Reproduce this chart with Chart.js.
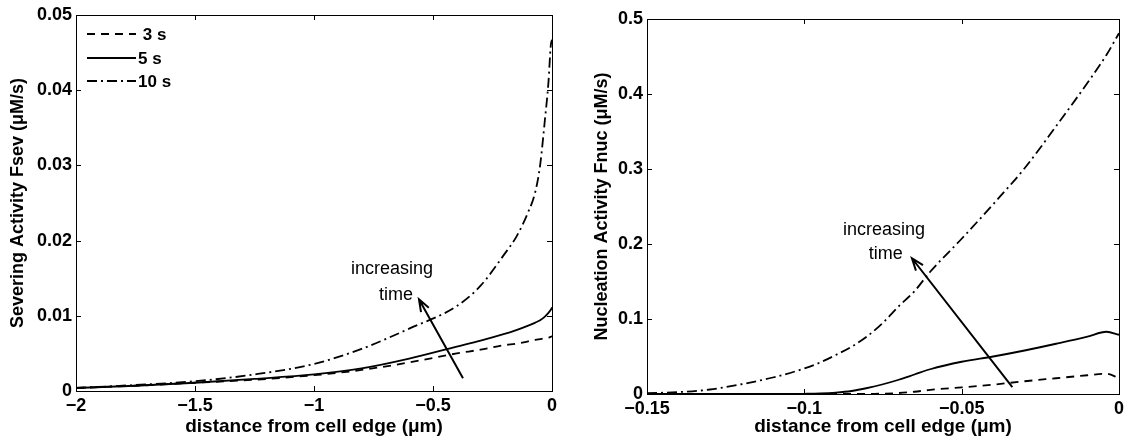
<!DOCTYPE html>
<html>
<head>
<meta charset="utf-8">
<script src="https://cdn.jsdelivr.net/npm/chart.js@4.4.1/dist/chart.umd.min.js"></script>
<style>
  body { margin: 0; background: #fff; }
  #wrap { position: relative; width: 1128px; height: 444px; }
  canvas { position: absolute; top: 0; }
</style>
</head>
<body>
<div id="wrap">
  <canvas id="sev" width="564" height="444" style="left:0"></canvas>
  <canvas id="nuc" width="564" height="444" style="left:564px"></canvas>
</div>
<script>
// left panel: severing activity vs distance
const sevX    = [-2, -1.75, -1.5, -1.25, -1, -0.8, -0.6, -0.4, -0.3, -0.2, -0.15, -0.1, -0.07, -0.05, -0.03, -0.015, -0.005, 0];
const sev3s   = [0.0004, 0.0007, 0.0011, 0.0015, 0.0021, 0.0028, 0.0038, 0.0050, 0.0055, 0.0061, 0.0063, 0.0066, 0.0068, 0.0069, 0.0070, 0.0071, 0.0072, 0.0073];
const sev5s   = [0.0004, 0.0007, 0.0011, 0.0016, 0.0022, 0.0030, 0.0043, 0.0059, 0.0067, 0.0076, 0.0081, 0.0087, 0.0091, 0.0094, 0.0099, 0.0104, 0.0108, 0.0111];
const sev10s  = [0.0004, 0.0008, 0.0013, 0.0022, 0.0036, 0.0056, 0.0083, 0.0113, 0.0140, 0.0182, 0.0205, 0.0238, 0.0265, 0.0300, 0.0360, 0.0410, 0.0460, 0.0467];
const sevXTicks  = [-2, -1.5, -1, -0.5, 0];
const sevXLabels = ['\u22122', '\u22121.5', '\u22121', '\u22120.5', '0'];
const sevYTicks  = [0, 0.01, 0.02, 0.03, 0.04, 0.05];
const sevYLabels = ['0', '0.01', '0.02', '0.03', '0.04', '0.05'];

// right panel: nucleation activity vs distance
const nucX    = [-0.15, -0.14, -0.13, -0.12, -0.11, -0.1, -0.095, -0.09, -0.085, -0.08, -0.075, -0.07, -0.065, -0.06, -0.05, -0.04, -0.03, -0.02, -0.01, -0.004, 0];
const nuc3s   = [0, 0, 0, 0, 0, 0, 0, 0, 0, 0, 0.0005, 0.0013, 0.003, 0.0055, 0.0088, 0.0125, 0.017, 0.021, 0.025, 0.027, 0.021];
const nuc5s   = [0, 0, 0, 0, 0, 0.0003, 0.0007, 0.0018, 0.004, 0.008, 0.013, 0.019, 0.026, 0.033, 0.043, 0.050, 0.058, 0.067, 0.0765, 0.083, 0.079];
const nuc10s  = [0.001, 0.0025, 0.006, 0.013, 0.022, 0.034, 0.042, 0.052, 0.063, 0.077, 0.095, 0.117, 0.137, 0.163, 0.207, 0.253, 0.301, 0.357, 0.415, 0.452, 0.481];
const nucXTicks  = [-0.15, -0.1, -0.05, 0];
const nucXLabels = ['\u22120.15', '\u22120.1', '\u22120.05', '0'];
const nucYTicks  = [0, 0.1, 0.2, 0.3, 0.4, 0.5];
const nucYLabels = ['0', '0.1', '0.2', '0.3', '0.4', '0.5'];

const seriesNames = [' 3 s', '5 s', '10 s'];
const dashes = [[8, 6], [], [10, 4, 2, 4]];

const FONT = "'Liberation Sans', Arial, Helvetica, sans-serif";

function makeSets(xs, ys) {
  return ys.map((vals, i) => ({
    label: seriesNames[i],
    data: xs.map((x, j) => ({x: x, y: vals[j]})),
    borderColor: '#000',
    borderWidth: 1.8,
    borderDash: dashes[i],
    pointRadius: 0,
    fill: false,
    cubicInterpolationMode: 'monotone',
    clip: 4
  }));
}

// box, inward ticks, legend and the "increasing time" arrow
const framePlugin = {
  id: 'frame',
  afterDatasetsDraw(chart) {
    const {ctx, chartArea: a, scales: {x, y}} = chart;
    ctx.save();
    ctx.strokeStyle = '#000';
    ctx.lineWidth = 1;
    ctx.setLineDash([]);
    ctx.strokeRect(a.left + 0.5, a.top + 0.5, a.right - a.left, a.bottom - a.top);
    ctx.beginPath();
    x.ticks.forEach(t => {
      const px = Math.round(x.getPixelForValue(t.value)) + 0.5;
      ctx.moveTo(px, a.bottom); ctx.lineTo(px, a.bottom - 5);
      ctx.moveTo(px, a.top); ctx.lineTo(px, a.top + 5);
    });
    y.ticks.forEach(t => {
      const py = Math.round(y.getPixelForValue(t.value)) + 0.5;
      ctx.moveTo(a.left, py); ctx.lineTo(a.left + 5, py);
      ctx.moveTo(a.right, py); ctx.lineTo(a.right - 5, py);
    });
    ctx.stroke();

    const note = chart.options.plugins.note;
    if (note) {
      const x0 = x.getPixelForValue(note.from[0]), y0 = y.getPixelForValue(note.from[1]);
      const x1 = x.getPixelForValue(note.to[0]), y1 = y.getPixelForValue(note.to[1]);
      const ang = Math.atan2(y1 - y0, x1 - x0);
      ctx.lineWidth = 2;
      ctx.beginPath();
      ctx.moveTo(x0, y0); ctx.lineTo(x1, y1);
      ctx.moveTo(x1 - 13 * Math.cos(ang - 0.35), y1 - 13 * Math.sin(ang - 0.35));
      ctx.lineTo(x1, y1);
      ctx.lineTo(x1 - 13 * Math.cos(ang + 0.35), y1 - 13 * Math.sin(ang + 0.35));
      ctx.stroke();
      ctx.fillStyle = '#000';
      ctx.font = '18px ' + FONT;
      ctx.textAlign = 'center';
      ctx.textBaseline = 'middle';
      note.lines.forEach(l => ctx.fillText(l.text, x.getPixelForValue(l.at[0]), y.getPixelForValue(l.at[1])));
    }

    const leg = chart.options.plugins.lineLegend;
    if (leg) {
      ctx.font = 'bold 17px ' + FONT;
      ctx.textAlign = 'left';
      ctx.textBaseline = 'middle';
      ctx.fillStyle = '#000';
      chart.data.datasets.forEach((ds, i) => {
        const yy = a.top + leg.rows[i];
        ctx.lineWidth = ds.borderWidth;
        ctx.setLineDash(ds.borderDash);
        ctx.beginPath();
        ctx.moveTo(a.left + 11, yy); ctx.lineTo(a.left + 60, yy);
        ctx.stroke();
        ctx.fillText(ds.label, a.left + 62, yy + 1);
      });
    }
    ctx.restore();
  }
};

function makeChart(id, xs, ys, cfg) {
  return new Chart(document.getElementById(id), {
    type: 'line',
    data: {datasets: makeSets(xs, ys)},
    plugins: [framePlugin],
    options: {
      responsive: false,
      animation: false,
      devicePixelRatio: 1,
      layout: {padding: cfg.padding},
      plugins: {
        legend: {display: false},
        tooltip: {enabled: false},
        note: cfg.note,
        lineLegend: cfg.legend
      },
      scales: {
        x: {
          type: 'linear',
          min: cfg.xTicks[0],
          max: cfg.xTicks[cfg.xTicks.length - 1],
          afterBuildTicks: s => { s.ticks = cfg.xTicks.map(v => ({value: v})); },
          afterFit: s => { s.height = cfg.xHeight; },
          grid: {display: false, drawTicks: false},
          border: {display: false},
          ticks: {
            padding: 4,
            color: '#000',
            font: {family: FONT, size: 18, weight: 'bold'},
            callback: (v, i) => cfg.xLabels[i]
          },
          title: {
            display: true,
            text: 'distance from cell edge (\u03bcm)',
            color: '#000',
            font: {family: FONT, size: 19, weight: 'bold'},
            padding: {top: 0, bottom: 6}
          }
        },
        y: {
          type: 'linear',
          min: cfg.yTicks[0],
          max: cfg.yTicks[cfg.yTicks.length - 1],
          afterBuildTicks: s => { s.ticks = cfg.yTicks.map(v => ({value: v})); },
          afterFit: s => { s.width = cfg.yWidth; },
          grid: {display: false, drawTicks: false},
          border: {display: false},
          ticks: {
            padding: 4,
            color: '#000',
            font: {family: FONT, size: 18, weight: 'bold'},
            callback: (v, i) => cfg.yLabels[i]
          },
          title: {
            display: true,
            text: cfg.yTitle,
            color: '#000',
            font: {family: FONT, size: 18, weight: 'bold'},
            padding: {top: cfg.yTitlePad, bottom: 0}
          }
        }
      }
    }
  });
}

makeChart('sev', sevX, [sev3s, sev5s, sev10s], {
  padding: {left: 0, right: 12, top: 15, bottom: 0},
  xTicks: sevXTicks, xLabels: sevXLabels, yTicks: sevYTicks, yLabels: sevYLabels,
  xHeight: 53, yWidth: 76, yTitlePad: 7,
  yTitle: 'Severing Activity Fsev (\u03bcM/s)',
  legend: {rows: [19, 43, 66]},
  note: {
    from: [-0.374, 0.0017], to: [-0.559, 0.0122],
    lines: [{text: 'increasing', at: [-0.672, 0.0162]}, {text: 'time', at: [-0.655, 0.0128]}]
  }
});

makeChart('nuc', nucX, [nuc3s, nuc5s, nuc10s], {
  padding: {left: 0, right: 6, top: 19, bottom: 0},
  xTicks: nucXTicks, xLabels: nucXLabels, yTicks: nucYTicks, yLabels: nucYLabels,
  xHeight: 50, yWidth: 83, yTitlePad: 27,
  yTitle: 'Nucleation Activity Fnuc (\u03bcM/s)',
  note: {
    from: [-0.0339, 0.0093], to: [-0.0658, 0.181],
    lines: [{text: 'increasing', at: [-0.0747, 0.219]}, {text: 'time', at: [-0.0741, 0.187]}]
  }
});
</script>
</body>
</html>
